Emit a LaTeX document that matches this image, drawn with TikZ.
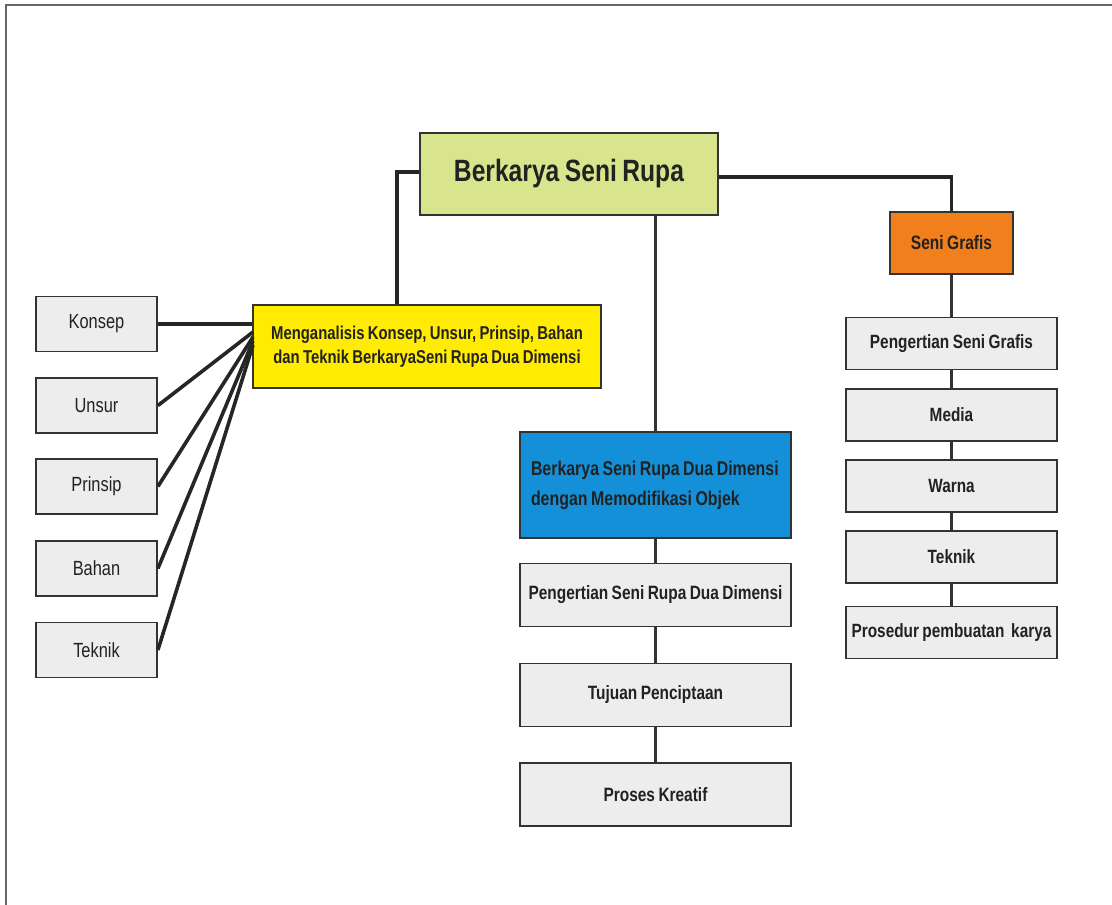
\documentclass[tikz,border=0pt]{standalone}
\usepackage{fontspec}
\setmainfont{Liberation Sans}[FakeStretch=0.8,WordSpace=0.8]
\definecolor{rootfill}{HTML}{D8E58C}
\definecolor{yelfill}{HTML}{FFEC00}
\definecolor{bluefill}{HTML}{1490D8}
\definecolor{orgfill}{HTML}{F07F1C}
\definecolor{boxfill}{HTML}{EDEDED}
\definecolor{edge}{HTML}{333333}
\definecolor{txt}{HTML}{222222}
\begin{document}
\begin{tikzpicture}[x=1pt,y=-1pt,
  base/.style={draw=edge, line width=1.8pt, inner sep=0pt, text=txt, align=center},
  graybox/.style={base, fill=boxfill},
  lgray/.style={graybox, minimum width=121pt, minimum height=55pt, font=\fontsize{20.5}{24}\selectfont},
  cgray/.style={graybox, minimum width=271pt, minimum height=63pt, font=\bfseries\fontsize{19.3}{23}\selectfont},
  rgray/.style={graybox, minimum width=211pt, minimum height=52pt, font=\bfseries\fontsize{19.2}{23}\selectfont},
  conn/.style={draw=black!85, line width=3.6pt},
  thin/.style={draw=black!80, line width=3pt}]
\useasboundingbox (0,0) rectangle (1112,905);
\draw[draw=black!60, line width=2pt] (6,905) -- (6,5) -- (1112,5);

\node[base, fill=rootfill, minimum width=298pt, minimum height=82pt, font=\bfseries\fontsize{30.8}{34}\selectfont] (root) at (569,174) {Berkarya Seni Rupa};
\node[base, fill=yelfill, minimum width=348pt, minimum height=83pt, font=\bfseries\fontsize{18.6}{24}\selectfont] (yel) at (427,346.5) {Menganalisis Konsep, Unsur, Prinsip, Bahan\\dan Teknik BerkaryaSeni Rupa Dua Dimensi};
\node[base, fill=bluefill, minimum width=271pt, minimum height=106pt, text width=249pt, align=flush left, font=\bfseries\fontsize{19.9}{30}\selectfont] (blue) at (655.5,485) {Berkarya Seni Rupa Dua Dimensi\\dengan Memodifikasi Objek};
\node[base, fill=orgfill, minimum width=123pt, minimum height=62pt, font=\bfseries\fontsize{19.4}{23}\selectfont] (org) at (951.5,243) {Seni Grafis};

\node[lgray] (konsep) at (96.5,324) {Konsep};
\node[lgray] (unsur) at (96.5,405.5) {Unsur};
\node[lgray] (prinsip) at (96.5,486.5) {Prinsip};
\node[lgray] (bahan) at (96.5,568.5) {Bahan};
\node[lgray] (teknikl) at (96.5,650) {Teknik};

\node[cgray] (pengc) at (655.5,595) {Pengertian Seni Rupa Dua Dimensi};
\node[cgray] (tujuan) at (655.5,695) {Tujuan Penciptaan};
\node[cgray] (proses) at (655.5,794.5) {Proses Kreatif};

\node[rgray] (pengr) at (951.5,343.5) {Pengertian Seni Grafis};
\node[rgray] (media) at (951.5,415) {Media};
\node[rgray] (warna) at (951.5,486) {Warna};
\node[rgray] (teknikr) at (951.5,557) {Teknik};
\node[rgray] (prosedur) at (951.5,632.5) {Prosedur pembuatan\ \ karya};

\coordinate (lt) at (397,172);
\coordinate (rt) at (951.5,177);
\draw[conn] (root.west |- lt) -- (lt) -- (lt |- yel.north);
\draw[conn] (root.east |- rt) -- (rt) -- (org.north);
\draw[thin] (root.south -| blue.north) -- (blue.north);

\draw[conn] (konsep.east) -- (yel.west |- konsep.east);
\coordinate (y1) at (253,332);
\coordinate (y2) at (253,337);
\coordinate (y3) at (253,341);
\coordinate (y4) at (253,345);
\draw[conn] (unsur.east) -- (y1);
\draw[conn] (prinsip.east) -- (y2);
\draw[conn] (bahan.east) -- (y3);
\draw[conn] (teknikl.east) -- (y4);

\draw[thin] (blue.south) -- (pengc.north);
\draw[thin] (pengc.south) -- (tujuan.north);
\draw[thin] (tujuan.south) -- (proses.north);

\draw[thin] (org.south) -- (pengr.north);
\draw[thin] (pengr.south) -- (media.north);
\draw[thin] (media.south) -- (warna.north);
\draw[thin] (warna.south) -- (teknikr.north);
\draw[thin] (teknikr.south) -- (prosedur.north);
\end{tikzpicture}
\end{document}
